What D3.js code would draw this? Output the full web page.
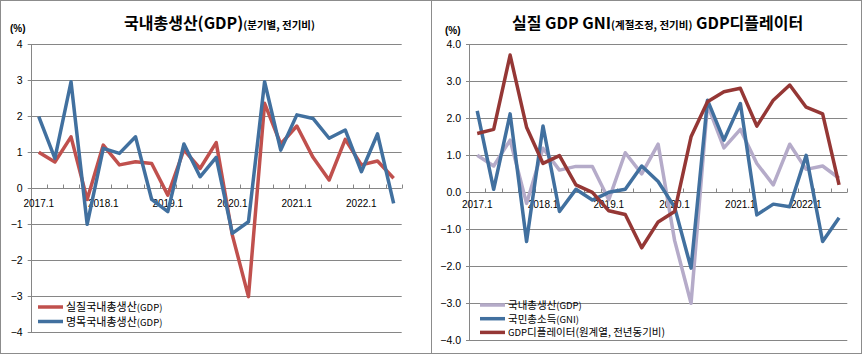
<!DOCTYPE html>
<html><head><meta charset="utf-8">
<script src="https://cdn.jsdelivr.net/npm/d3@7"></script>
<style>
body{margin:0;background:#fff;}
svg{display:block;}
text{font-family:"Liberation Sans",Arial,"Noto Sans CJK KR",sans-serif;}
.kr{font-family:"Noto Sans CJK KR","Liberation Sans",sans-serif;}
</style></head>
<body>
<svg id="c" width="863" height="357"></svg>
<script>
const quarters = ["2017.1","2017.2","2017.3","2017.4","2018.1","2018.2","2018.3","2018.4","2019.1","2019.2","2019.3","2019.4","2020.1","2020.2","2020.3","2020.4","2021.1","2021.2","2021.3","2021.4","2022.1","2022.2","2022.3"];
const tickLabels = ["2017.1","2018.1","2019.1","2020.1","2021.1","2022.1"];
// left chart
const realGdp    = [1.0,0.73,1.43,-0.31,1.2,0.65,0.74,0.69,-0.19,1.07,0.55,1.27,-1.3,-3.01,2.36,1.23,1.73,0.86,0.23,1.36,0.65,0.76,0.28];
const nominalGdp = [1.99,0.83,2.96,-1.0,1.11,0.97,1.43,-0.31,-0.65,1.23,0.32,0.86,-1.25,-0.93,2.96,1.06,2.04,1.94,1.39,1.62,0.46,1.51,-0.42];
const leftTicks  = [4,3,2,1,0,-1,-2,-3,-4];
// right chart
const gdpR     = [1.0,0.71,1.41,-0.3,1.19,0.6,0.7,0.7,-0.2,1.07,0.5,1.3,-1.3,-3.0,2.36,1.2,1.7,0.78,0.2,1.3,0.62,0.71,0.38];
const gni      = [2.2,0.08,2.12,-1.33,1.79,-0.52,0.08,-0.21,0.0,0.08,0.71,0.29,-0.4,-2.05,2.49,1.41,2.4,-0.61,-0.32,-0.39,1.0,-1.33,-0.69];
const deflator = [1.59,1.7,3.71,1.76,0.78,0.99,0.2,0.0,-0.5,-0.6,-1.5,-0.8,-0.52,1.5,2.45,2.72,2.81,1.79,2.49,2.9,2.3,2.12,0.2];
const rightTicks = [4,3,2,1,0,-1,-2,-3,-4];

const svg = d3.select("#c");
const gridCol = "#868686";

// panel frames
svg.append("rect").attr("x",0.5).attr("y",0.5).attr("width",431).attr("height",353).attr("fill","none").attr("stroke","#8c8c8c");
svg.append("rect").attr("x",431.5).attr("y",0.5).attr("width",430).attr("height",353).attr("fill","none").attr("stroke","#8c8c8c");

function chart(opt){
  const g = svg.append("g");
  const x = d3.scaleBand().domain(quarters).range([opt.x0,opt.x1]).padding(0);
  const y = d3.scaleLinear().domain([-4,4]).range([opt.yb,opt.yt]);
  // gridlines
  g.append("g").selectAll("line").data(opt.ticks).join("line")
    .attr("x1",opt.x0-3).attr("x2",opt.x1).attr("y1",d=>Math.round(y(d))+0.5).attr("y2",d=>Math.round(y(d))+0.5)
    .attr("stroke",gridCol).attr("stroke-width",1);
  // y axis line
  g.append("line").attr("x1",Math.round(opt.x0)+0.5).attr("x2",Math.round(opt.x0)+0.5)
    .attr("y1",y(4)).attr("y2",y(-4)).attr("stroke",gridCol);
  // y labels
  g.append("g").selectAll("text").data(opt.ticks).join("text")
    .attr("x",opt.x0-8).attr("y",d=>y(d)+4).attr("text-anchor","end")
    .attr("font-size",10.5).attr("fill","#000").text(opt.fmt);
  // x ticks at category boundaries
  const y0 = Math.round(y(0))+0.5;
  const bounds = quarters.map(q=>x(q)+x.bandwidth());
  g.append("g").selectAll("line").data(bounds).join("line")
    .attr("x1",d=>Math.round(d)+0.5).attr("x2",d=>Math.round(d)+0.5)
    .attr("y1",y0-4).attr("y2",y0).attr("stroke",gridCol);
  // x labels
  g.append("g").selectAll("text").data(tickLabels).join("text")
    .attr("x",d=>x(d)+x.bandwidth()/2).attr("y",y0+opt.labelDy).attr("text-anchor","middle")
    .attr("font-size",10).attr("fill","#000").text(d=>d);
  // lines
  const line = d3.line().x((d,i)=>x(quarters[i])+x.bandwidth()/2).y(d=>y(d));
  opt.series.forEach(s=>{
    g.append("path").datum(s.values).attr("d",line).attr("fill","none")
      .attr("stroke",s.color).attr("stroke-width",3.5).attr("stroke-linejoin","round");
  });
  // legend
  opt.legendOrder.forEach((s,i)=>{
    const ly = opt.legY + i*opt.legStep;
    g.append("line").attr("x1",opt.legX).attr("x2",opt.legX+25).attr("y1",ly).attr("y2",ly)
      .attr("stroke",s.color).attr("stroke-width",3.5);
    const t = g.append("text").attr("x",opt.legX+28).attr("y",ly+4).attr("class","kr");
    s.label.forEach(p=>t.append("tspan").attr("font-size",p[1]).text(p[0]));
  });
  // (%)
  g.append("text").attr("x",opt.pctX).attr("y",opt.pctY).attr("font-size",10).attr("font-weight","bold").text("(%)");
}

const red="#c0504d", blue="#41709f", lav="#b5abc9", dred="#953735";

const L1 = {values:realGdp,color:red,label:[["실질국내총생산",11],["(GDP)",9.5]]};
const L2 = {values:nominalGdp,color:blue,label:[["명목국내총생산",11],["(GDP)",9.5]]};
chart({x0:30.7,x1:401.7,yt:44.3,yb:332.3,ticks:leftTicks,fmt:d=>d3.format("d")(d),labelDy:18,
  series:[L1,L2],legendOrder:[L1,L2],legX:38,legY:307,legStep:14.5,pctX:10,pctY:32});

const R1 = {values:gdpR,color:lav,label:[["국내총생산",10.5],["(GDP)",9.5]]};
const R2 = {values:gni,color:blue,label:[["국민총소득",10.5],["(GNI)",9.5]]};
const R3 = {values:deflator,color:dred,label:[["GDP",9.5],["디플레이터(원계열, 전년동기비)",10.5]]};
chart({x0:469,x1:847.3,yt:44.3,yb:340.3,ticks:rightTicks,fmt:d=>d3.format(".1f")(d),labelDy:15,
  series:[R1,R2,R3],legendOrder:[R1,R2,R3],legX:480,legY:305,legStep:13.7,pctX:445,pctY:34});

// titles
const t1 = svg.append("text").attr("x",124).attr("y",29).attr("class","kr").attr("font-weight","bold");
t1.append("tspan").attr("font-size",16).text("국내총생산(GDP)");
t1.append("tspan").attr("font-size",10.5).text("(분기별, 전기비)");
const t2 = svg.append("text").attr("x",512).attr("y",29).attr("class","kr").attr("font-weight","bold");
t2.append("tspan").attr("font-size",16).text("실질 GDP GNI");
t2.append("tspan").attr("font-size",10.5).text("(계절조정, 전기비)");
t2.append("tspan").attr("font-size",16).text(" GDP디플레이터");
</script>
</body></html>
